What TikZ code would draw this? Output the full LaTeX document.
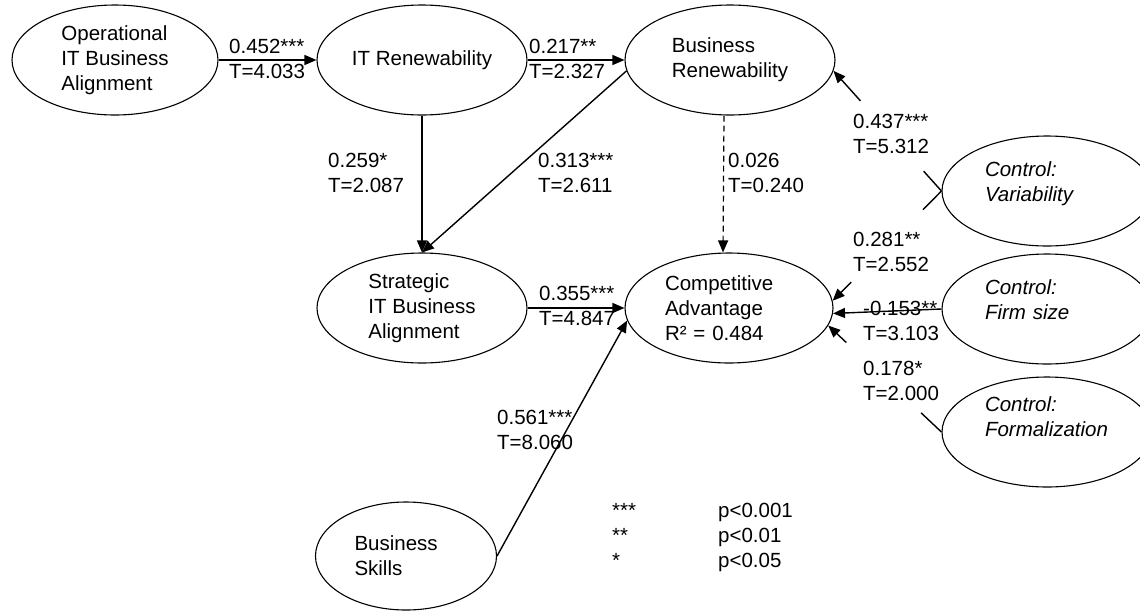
\documentclass[tikz,border=0pt]{standalone}
\usepackage{fontspec}
\setmainfont{Liberation Sans}
\usetikzlibrary{arrows.meta,shapes.geometric}
\newcommand\ctrltext[2]{\raisebox{#1}[0pt][0pt]{\begin{tabular}{@{}l@{}}Control:\\#2\end{tabular}}}
\begin{document}
\begin{tikzpicture}[x=1pt,y=-1pt,
  every node/.style={font=\fontsize{20.5}{25}\selectfont, inner sep=0pt},
  latent/.style={draw, ellipse, line width=1.1pt, minimum width=210pt, minimum height=110pt, align=left},
  ctrl/.style={latent, text width=124pt, font=\fontsize{20.5}{25}\selectfont\itshape},
  lbl/.style={anchor=base west, align=left},
  conn/.style={line width=1.4pt, -{Triangle[length=12pt,width=10pt]}},
  seg/.style={line width=1.4pt},
  dsh/.style={line width=1.2pt, dash pattern=on 6pt off 4pt, -{Triangle[length=12pt,width=10pt]}}
]
\clip (0,0) rectangle (1140,611);

% constructs
\node[latent, minimum width=206pt] (op) at (115,60) {Operational\\IT Business\\Alignment};
\node[latent] (itr) at (422,60) {IT Renewability};
\node[latent] (br) at (730,60) {Business\\Renewability};
\node[latent] (sa) at (422,308) {Strategic\\IT Business\\Alignment};
\node[latent, minimum width=208pt, text width=128pt] (ca) at (729,308) {Competitive\\Advantage\\R² = 0.484};
\node[latent, minimum width=181pt, minimum height=108pt, text width=103pt] (bs) at (406,556) {Business\\Skills};
\node[ctrl] (var) at (1047,191) {\ctrltext{1.5pt}{Variability}};
\node[ctrl] (fs) at (1047,309) {\ctrltext{1.5pt}{Firm size}};
\node[ctrl] (fo) at (1047,432) {\ctrltext{7.5pt}{Formalization}};

% structural paths
\draw[conn] (op.east) -- (itr.west);
\draw[conn] (itr.east) -- (br.west);
\draw[conn] (itr.south) -- (sa.north);
\draw[conn] (br.186) -- (sa.north);
\draw[dsh] ([xshift=-6pt]br.south) -- ([xshift=-6pt]ca.north);
\draw[conn] (sa.east) -- (ca.west);
\draw[conn] (bs.east) -- (ca.187);

% control paths (interrupted by their labels)
\path (var.west) -- (br.-6) coordinate[pos=0.165] (v1) coordinate[pos=0.75] (v2);
\draw[seg] (var.west) -- (v1);
\draw[conn] (v2) -- (br.-6);
\path (var.west) -- (ca.4) coordinate[pos=0.17] (v3) coordinate[pos=0.83] (v4);
\draw[seg] (var.west) -- (v3);
\draw[conn] (v4) -- (ca.4);
\draw[conn] (fs.west) -- (ca.-3);
\path (fo.west) -- (ca.-10) coordinate[pos=0.18] (f1) coordinate[pos=0.84] (f2);
\draw[seg] (fo.west) -- (f1);
\draw[conn] (f2) -- (ca.-10);

% path labels (anchored at the baseline of their second line)
\node[lbl] (l1) at (229,78) {0.452***\\T=4.033};
\node[lbl] (l2) at (529,78) {0.217**\\T=2.327};
\node[lbl] (l3) at (328,192) {0.259*\\T=2.087};
\node[lbl] (l4) at (538,192) {0.313***\\T=2.611};
\node[lbl] (l5) at (728,192) {0.026\\T=0.240};
\node[lbl] (l6) at (539,325) {0.355***\\T=4.847};
\node[lbl] (l7) at (497,449) {0.561***\\T=8.060};
\node[lbl] (l8) at (853,153) {0.437***\\T=5.312};
\node[lbl] (l9) at (853,271) {0.281**\\T=2.552};
\node[lbl] (l10) at (863,340) {-0.153**\\T=3.103};
\node[lbl] (l11) at (863,400) {0.178*\\T=2.000};

% legend
\node[anchor=base west] (leg) at (612,517) {\begin{tabular}[t]{@{}p{106pt}@{}l@{}}***&p<0.001\\\relax**&p<0.01\\\relax*&p<0.05\end{tabular}};
\end{tikzpicture}
\end{document}
